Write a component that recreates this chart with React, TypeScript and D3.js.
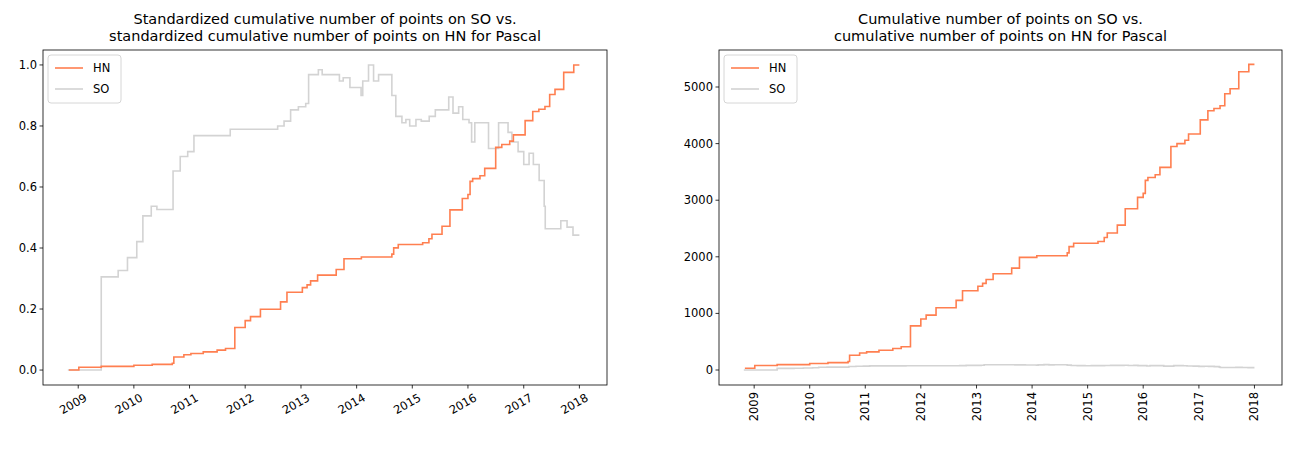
import React from 'react'
import * as d3 from 'd3'

const hnPoints: [string, number][] = [
  ['2008-11-01', 30], ['2009-01-05', 80], ['2009-06-01', 95], ['2010-01-01', 115], ['2010-05-01', 130],
  ['2010-09-10', 150], ['2010-09-20', 260], ['2010-11-25', 300], ['2011-01-10', 320], ['2011-04-01', 350],
  ['2011-07-01', 380], ['2011-08-25', 410], ['2011-10-25', 780], ['2012-01-01', 900], ['2012-02-05', 970],
  ['2012-04-10', 1100], ['2012-08-20', 1230], ['2012-10-01', 1400], ['2013-01-10', 1480], ['2013-02-10', 1530],
  ['2013-03-05', 1600], ['2013-04-20', 1700], ['2013-08-20', 1800], ['2013-10-10', 1990], ['2014-02-01', 2020],
  ['2014-08-20', 2070], ['2014-09-01', 2180], ['2014-10-01', 2240], ['2015-03-10', 2270], ['2015-04-20', 2340],
  ['2015-05-10', 2420], ['2015-07-15', 2560], ['2015-09-05', 2850], ['2015-11-25', 3050], ['2016-01-01', 3120],
  ['2016-01-15', 3350], ['2016-02-01', 3400], ['2016-03-20', 3450], ['2016-04-20', 3580], ['2016-07-01', 3950],
  ['2016-08-10', 4000], ['2016-10-01', 4060], ['2016-10-25', 4170], ['2017-01-10', 4420], ['2017-03-01', 4580],
  ['2017-04-10', 4620], ['2017-05-20', 4670], ['2017-06-20', 4880], ['2017-07-25', 4970], ['2017-09-20', 5270],
  ['2017-11-25', 5400], ['2018-01-01', 5400],
]

const soPoints: [string, number][] = [
  ['2008-10-25', 0], ['2009-06-01', 29], ['2009-09-20', 31], ['2009-11-20', 35], ['2010-01-20', 40],
  ['2010-03-01', 48], ['2010-04-25', 51], ['2010-06-01', 50], ['2010-09-15', 62], ['2010-11-01', 66.5],
  ['2010-12-20', 68], ['2011-01-30', 73], ['2011-09-25', 75], ['2012-08-01', 76], ['2012-09-12', 77.5],
  ['2012-10-25', 81], ['2012-12-15', 82], ['2013-02-01', 83], ['2013-02-20', 92], ['2013-04-25', 93.5],
  ['2013-05-20', 92], ['2013-09-10', 90], ['2013-10-05', 91], ['2013-11-18', 88], ['2014-01-30', 85.5],
  ['2014-02-10', 90], ['2014-03-20', 95], ['2014-04-22', 90], ['2014-05-25', 92], ['2014-08-20', 85.5],
  ['2014-09-15', 79], ['2014-10-25', 77], ['2014-11-20', 78], ['2014-12-15', 76], ['2015-01-25', 78],
  ['2015-03-01', 77.5], ['2015-04-22', 79], ['2015-06-01', 81], ['2015-08-28', 85], ['2015-09-25', 80],
  ['2015-11-01', 82], ['2015-11-28', 78], ['2016-01-08', 77], ['2016-01-25', 71], ['2016-02-15', 77],
  ['2016-05-15', 69], ['2016-07-20', 77], ['2016-09-20', 74], ['2016-10-15', 71], ['2016-11-25', 68],
  ['2017-01-01', 64], ['2017-02-05', 67.5], ['2017-03-05', 64], ['2017-04-12', 59], ['2017-05-15', 51],
  ['2017-05-22', 44], ['2017-09-01', 46.5], ['2017-10-12', 44.5], ['2017-11-20', 42], ['2018-01-01', 42],
]

const leftTitle = ['Standardized cumulative number of points on SO vs.', 'standardized cumulative number of points on HN for Pascal']
const rightTitle = ['Cumulative number of points on SO vs.', 'cumulative number of points on HN for Pascal']
const yearTicks = [2009, 2010, 2011, 2012, 2013, 2014, 2015, 2016, 2017, 2018]

const HN_COLOR = '#ff7f50'
const SO_COLOR = '#d3d3d3'
const font = 'DejaVu Sans, sans-serif'

type Pt = { d: Date; v: number }
const parse = (arr: [string, number][]): Pt[] => arr.map(([s, v]) => ({ d: new Date(s + 'T00:00:00'), v }))
const standardize = (pts: Pt[]): Pt[] => {
  const [lo, hi] = d3.extent(pts, p => p.v) as [number, number]
  return pts.map(p => ({ d: p.d, v: (p.v - lo) / (hi - lo) }))
}

function Panel({ left, right, title, yDomain, yTicks, yFmt, rot, hn, so }: {
  left: number; right: number; title: string[]; yDomain: [number, number]; yTicks: number[]
  yFmt: (v: number) => string; rot: number; hn: Pt[]; so: Pt[]
}) {
  const top = 50, bottom = 385
  const x = d3.scaleTime()
    .domain([new Date(2008, 4, 15), new Date(2018, 6, 1)])
    .range([left, right])
  const y = d3.scaleLinear().domain(yDomain).range([bottom, top])
  const line = d3.line<Pt>().x(p => x(p.d)).y(p => y(p.v)).curve(d3.curveStepAfter)
  const cx = (left + right) / 2
  return (
    <g fontFamily={font}>
      {title.map((t, i) => (
        <text key={i} x={cx} y={24 + i * 17} textAnchor="middle" fontSize={14.5}>{t}</text>
      ))}
      <path d={line(so)!} fill="none" stroke={SO_COLOR} strokeWidth={1.6} />
      <path d={line(hn)!} fill="none" stroke={HN_COLOR} strokeWidth={1.6} />
      <rect x={left} y={top} width={right - left} height={bottom - top} fill="none" stroke="#000" strokeWidth={0.8} />
      {yTicks.map(t => (
        <g key={t}>
          <line x1={left - 3.5} x2={left} y1={y(t)} y2={y(t)} stroke="#000" strokeWidth={0.8} />
          <text x={left - 6} y={y(t)} dy="0.35em" textAnchor="end" fontSize={11.5}>{yFmt(t)}</text>
        </g>
      ))}
      {yearTicks.map(yr => {
        const px = x(new Date(yr, 0, 1))
        return (
          <g key={yr}>
            <line x1={px} x2={px} y1={bottom} y2={bottom + 3.5} stroke="#000" strokeWidth={0.8} />
            <text transform={`translate(${px + (rot === 90 ? 0 : 5)},${bottom + 7}) rotate(${-rot})`}
              textAnchor="end" dy={rot === 90 ? '0.35em' : '0.8em'} fontSize={11.5}>{yr}</text>
          </g>
        )
      })}
      <g transform={`translate(${left + 5},${top + 5})`}>
        <rect width={73} height={48} rx={3} fill="#fff" stroke="#ccc" strokeWidth={0.8} />
        <line x1={7} x2={35} y1={13} y2={13} stroke={HN_COLOR} strokeWidth={1.6} />
        <text x={45} y={13} dy="0.35em" fontSize={11.5}>HN</text>
        <line x1={7} x2={35} y1={34} y2={34} stroke={SO_COLOR} strokeWidth={1.6} />
        <text x={45} y={34} dy="0.35em" fontSize={11.5}>SO</text>
      </g>
    </g>
  )
}

export default function App() {
  const hn = parse(hnPoints)
  const so = parse(soPoints)
  return (
    <svg width={1307} height={449} style={{ position: 'absolute', left: 0, top: 0, display: 'block' }}>
      <rect width={1307} height={449} fill="#fff" />
      <Panel left={43} right={607} title={leftTitle} yDomain={[-0.049, 1.049]}
        yTicks={[0, 0.2, 0.4, 0.6, 0.8, 1.0]} yFmt={d3.format('.1f')} rot={30}
        hn={standardize(hn)} so={standardize(so)} />
      <Panel left={719} right={1282} title={rightTitle} yDomain={[-265, 5654]}
        yTicks={[0, 1000, 2000, 3000, 4000, 5000]} yFmt={d3.format('d')} rot={90}
        hn={hn} so={so} />
    </svg>
  )
}
